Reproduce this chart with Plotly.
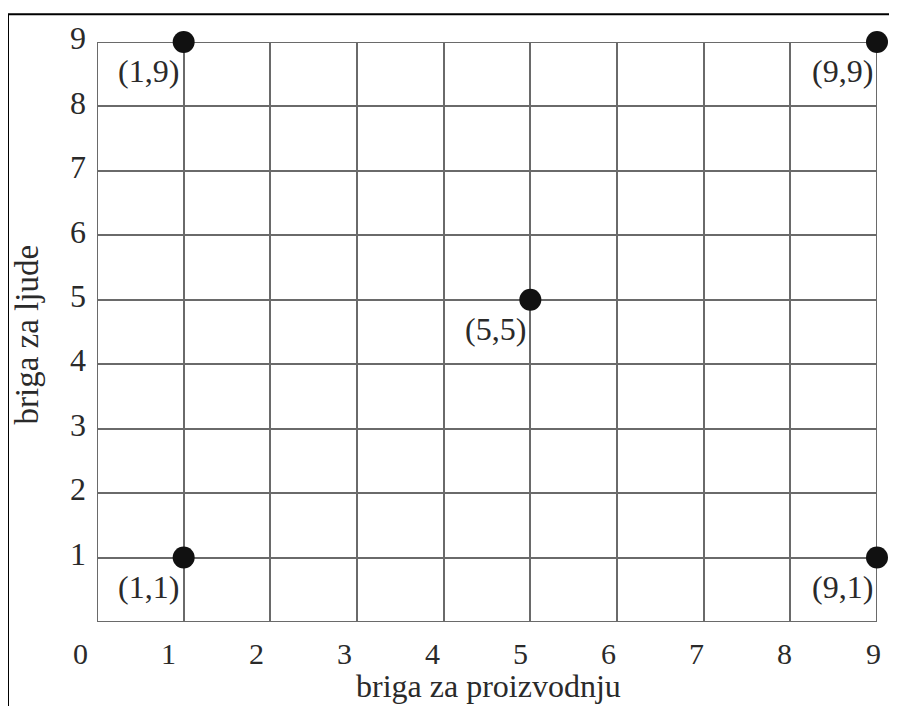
import plotly.graph_objects as go

# data
px_vals = [1, 9, 5, 1, 9]
py_vals = [9, 9, 5, 1, 1]
point_labels = ["(1,9)", "(9,9)", "(5,5)", "(1,1)", "(9,1)"]
x_ticks = [0, 1, 2, 3, 4, 5, 6, 7, 8, 9]
y_ticks = [1, 2, 3, 4, 5, 6, 7, 8, 9]
x_title = "briga za proizvodnju"
y_title = "briga za ljude"

FONT = "Liberation Serif, Times New Roman, serif"
OFF = 8  # page body margin
W, H = 897 - OFF, 706 - OFF
L, R, T, B = 97 - OFF, 20, 37 - OFF, 84
PW, PH = W - L - R, H - T - B
TXT = "#2a2a2a"

fig = go.Figure()
fig.add_trace(go.Scatter(
    x=px_vals, y=py_vals, mode="markers",
    marker=dict(size=22, color="#111111"),
    cliponaxis=False, hoverinfo="skip", showlegend=False,
))

ann = []
for x, y, t in zip(px_vals, py_vals, point_labels):
    ann.append(dict(x=x, y=y, text=t, showarrow=False, xshift=-35, yshift=-29,
                    xanchor="center", yanchor="middle",
                    font=dict(family=FONT, size=32, color=TXT)))
for v in x_ticks:
    ann.append(dict(x=(v * 1.0167 - 0.196) / 9, xref="paper", y=-32 / PH, yref="paper",
                    text=str(v), showarrow=False, xanchor="center", yanchor="middle",
                    font=dict(family=FONT, size=30, color=TXT)))
ann.append(dict(x=(488 - 97) / PW, xref="paper", y=-65 / PH, yref="paper",
                xanchor="center", yanchor="middle", text=x_title, showarrow=False,
                font=dict(family=FONT, size=32, color=TXT)))
ann.append(dict(x=(27 - 97) / PW, xref="paper", y=(622 - 332) / PH, yref="paper",
                xanchor="center", yanchor="middle",
                text=y_title, showarrow=False, textangle=-90,
                font=dict(family=FONT, size=33, color=TXT)))

fig.update_layout(
    width=W, height=H,
    margin=dict(l=L, r=R, t=T, b=B),
    paper_bgcolor="white", plot_bgcolor="white",
    annotations=ann,
    shapes=[dict(type="rect", xref="paper", yref="paper",
                 x0=(8 - 97) / PW, x1=1.1,
                 y0=-0.3, y1=1 + (37 - 9) / PH,
                 line=dict(color="black", width=2), layer="below"),
            dict(type="rect", xref="x", yref="y", x0=0, x1=9, y0=0, y1=9,
                 line=dict(color="#6a6a6a", width=2), layer="below")],
    xaxis=dict(range=[0, 9], tickvals=x_ticks, showticklabels=False,
               showgrid=True, gridcolor="#6a6a6a", gridwidth=2,
               zeroline=False, showline=False, fixedrange=True),
    yaxis=dict(range=[0, 9], tickvals=y_ticks, showticklabels=True,
               ticklabelshift=-4, ticklabelstandoff=10,
               tickfont=dict(family=FONT, size=32, color=TXT),
               showgrid=True, gridcolor="#6a6a6a", gridwidth=2,
               zeroline=False, showline=False, fixedrange=True),
)

fig.write_html("out.html")
